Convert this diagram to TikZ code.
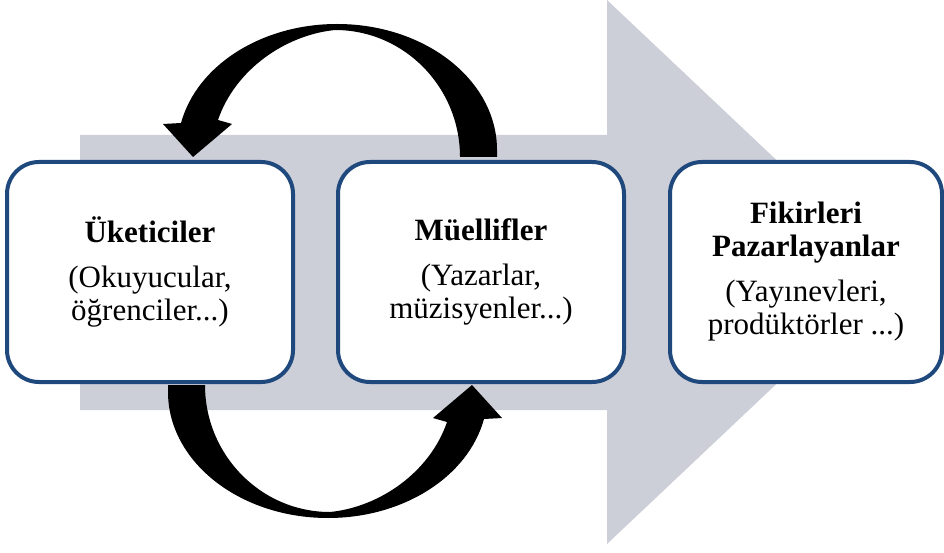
\documentclass[tikz,border=0pt]{standalone}
\usepackage{fontspec}
\setmainfont{Liberation Serif}
\usetikzlibrary{calc,positioning}
\definecolor{boxblue}{RGB}{31,73,125}
\definecolor{flowgray}{RGB}{204,206,216}

\tikzset{
  actor/.style={rectangle,rounded corners=32pt,draw=boxblue,line width=4pt,fill=white,
    minimum width=286pt,minimum height=220pt,align=center,
    font=\fontsize{31}{33}\selectfont},
  cycle arrow/.pic={
    \fill (127.5,-114) -- (164.5,-114) -- (164.5,-121)
      .. controls (164.5,-190.6) and (92.9,-247) .. (4.5,-247)
      .. controls (-70.5,-247) and (-135.5,-206) .. (-151.5,-148)
      -- (-169.5,-147) -- (-139.5,-114) -- (-100.5,-147) -- (-114.5,-151)
      .. controls (-97.5,-201) and (-47.5,-236) .. (2.5,-241)
      .. controls (71.5,-241) and (127.5,-184) .. (127.5,-114) -- cycle;
  }
}

\begin{document}
\begin{tikzpicture}[x=1pt,y=-1pt]
  \useasboundingbox (0,0) rectangle (944,553);

  % big flow arrow behind
  \fill[flowgray] (80,135) -- (607,135) -- (607,0) -- (895,272)
    -- (607,544) -- (607,410) -- (80,410) -- cycle;

  \coordinate (loop) at (332.5,271);
  \pic at (loop) {cycle arrow};
  \pic[rotate=180] at (loop) {cycle arrow};

  \node[actor] (ureticiler) at (150,272)
    {\textbf{Üketiciler}\\[12pt](Okuyucular,\\öğrenciler...)};
  \node[actor,right=41pt of ureticiler] (muellifler)
    {\textbf{Müellifler}\\[12pt](Yazarlar,\\müzisyenler...)};
  \node[actor,minimum width=272pt,right=42pt of muellifler] (pazarlayan)
    {\textbf{Fikirleri}\\\textbf{Pazarlayanlar}\\[12pt](Yayınevleri,\\prodüktörler ...)};
\end{tikzpicture}
\end{document}
